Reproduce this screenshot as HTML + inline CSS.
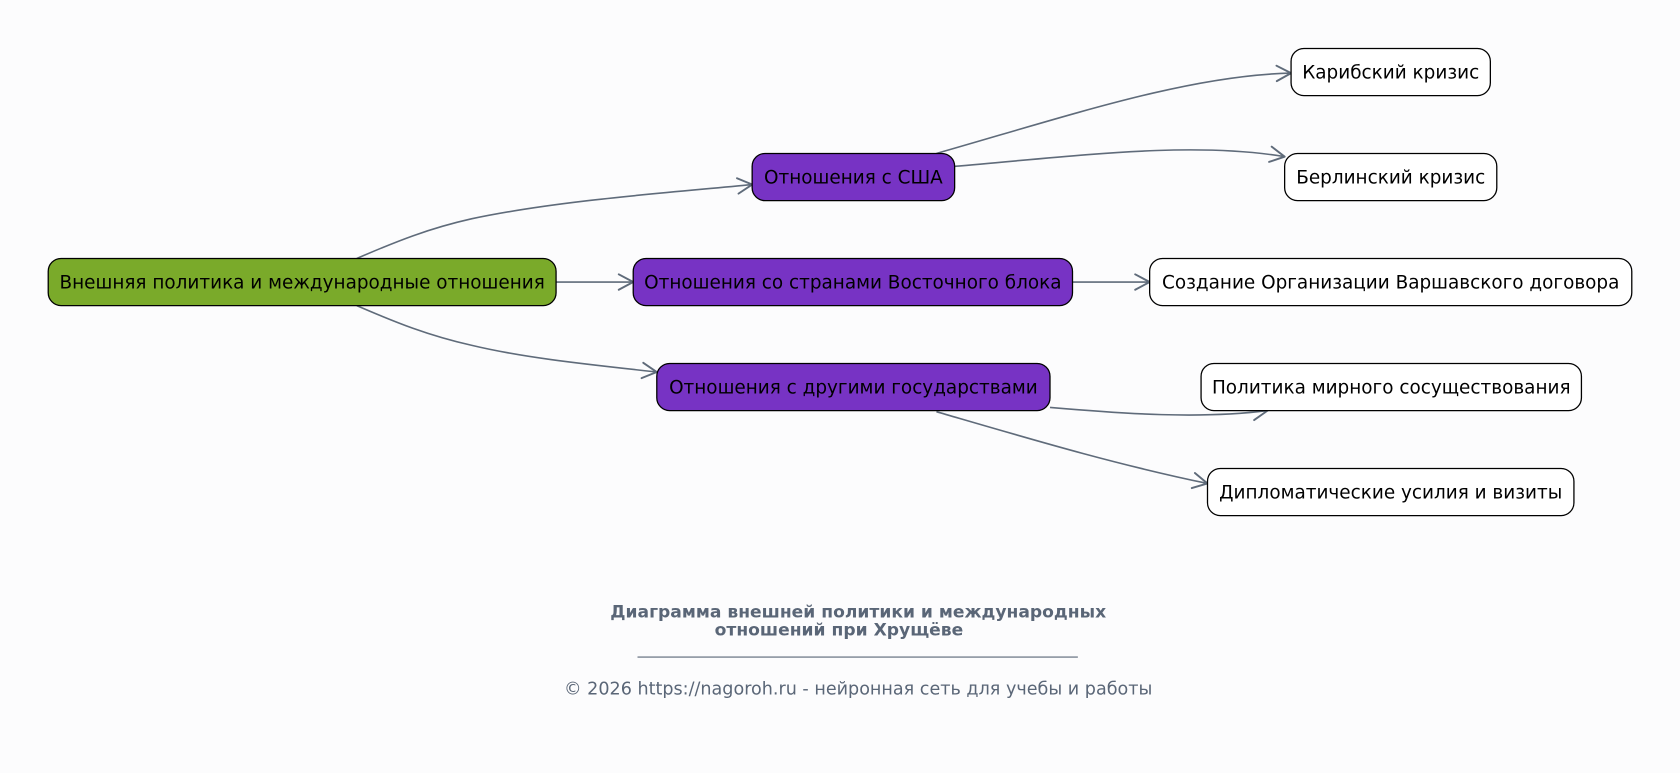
<!DOCTYPE html>
<html><head><meta charset="utf-8"><style>
html,body{margin:0;padding:0;background:#fcfcfd;}
svg{display:block;}
text{font-family:"DejaVu Sans","Liberation Sans",sans-serif;}
</style></head><body>
<svg width="1680" height="773" viewBox="0 0 1568 721" xmlns="http://www.w3.org/2000/svg">
<defs>
<marker id="a" viewBox="0 0 20 20" refX="18" refY="10" markerWidth="18" markerHeight="18" markerUnits="userSpaceOnUse" orient="auto">
<path d="M3,2 L18,10 L3,18" fill="none" stroke="#5f6b7a" stroke-width="2" stroke-linecap="round" stroke-linejoin="round"/>
</marker>
</defs>
<rect width="1568" height="721" fill="#fcfcfd"/>
<g fill="none" stroke="#5f6b7a" stroke-width="1.5" marker-end="url(#a)">
<path d="M333,241 C370,225 400,213 440,204 C520,187 620,180 702,172"/>
<path d="M519,263 L591,263"/>
<path d="M333,285 C370,301 400,313 440,322 C490,334 550,340 613,347"/>
<path d="M874,143 C1000,107 1110,70 1205,68"/>
<path d="M891,155 C1000,146 1110,131 1199,146"/>
<path d="M1001,263 L1073,263"/>
<path d="M980,380 C1050,386 1120,391 1183,383"/>
<path d="M874,384 C960,409 1040,433 1127,451"/>
</g>
<g stroke="#000" stroke-width="1.2">
<rect x="45" y="241" width="474" height="44" rx="12" fill="#7aaa2a"/>
<rect x="702" y="143" width="189" height="44" rx="12" fill="#7733c4"/>
<rect x="591" y="241" width="410" height="44" rx="12" fill="#7733c4"/>
<rect x="613" y="339" width="367" height="44" rx="12" fill="#7733c4"/>
<rect x="1205" y="45" width="186" height="44" rx="12" fill="#fff"/>
<rect x="1199" y="143" width="198" height="44" rx="12" fill="#fff"/>
<rect x="1073" y="241" width="450" height="44" rx="12" fill="#fff"/>
<rect x="1121" y="339" width="355" height="44" rx="12" fill="#fff"/>
<rect x="1127" y="437" width="342" height="44" rx="12" fill="#fff"/>
</g>
<g font-size="17.2" fill="#000" text-anchor="middle">
<text x="282" y="269">Внешняя политика и международные отношения</text>
<text x="796.5" y="171">Отношения с США</text>
<text x="796" y="269">Отношения со странами Восточного блока</text>
<text x="796.5" y="367">Отношения с другими государствами</text>
<text x="1298" y="73">Карибский кризис</text>
<text x="1298" y="171">Берлинский кризис</text>
<text x="1298" y="269">Создание Организации Варшавского договора</text>
<text x="1298.5" y="367">Политика мирного сосуществования</text>
<text x="1298" y="465">Дипломатические усилия и визиты</text>
</g>
<g fill="#5a6677" text-anchor="middle">
<text x="801" y="576" font-size="16" font-weight="bold">Диаграмма внешней политики и международных</text>
<text x="783" y="593" font-size="16" font-weight="bold">отношений при Хрущёве</text>
<line x1="595" y1="613" x2="1006" y2="613" stroke="#5a6677" stroke-width="1"/>
<text x="801" y="648" font-size="16.4">© 2026 https://nagoroh.ru - нейронная сеть для учебы и работы</text>
</g>
</svg>
</body></html>
